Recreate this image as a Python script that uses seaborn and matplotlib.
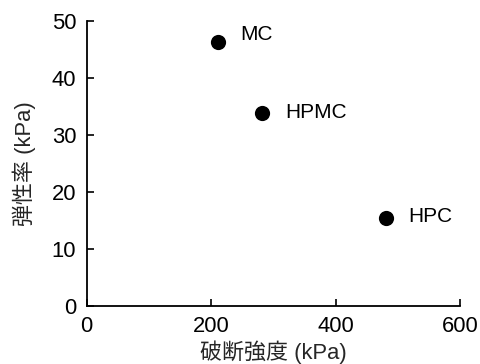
import matplotlib
matplotlib.use("Agg")
import matplotlib.pyplot as plt
import seaborn as sns
import pandas as pd

names = ["MC", "HPMC", "HPC"]
breaking_strength = [211, 282, 481]
elastic_modulus = [46.2, 33.9, 15.4]

x_ticks = [0, 200, 400, 600]
y_ticks = [0, 10, 20, 30, 40, 50]

sns.set_style("ticks")
plt.rcParams['font.family'] = ['Liberation Sans', 'Noto Sans CJK JP', 'DejaVu Sans']

df = pd.DataFrame({"x": breaking_strength, "y": elastic_modulus, "name": names})

FS = 15.8

fig = plt.figure(figsize=(4.8, 3.64), dpi=100)
ax = fig.add_axes([0.1806, 0.160, 0.9583 - 0.1806, 0.943 - 0.160])
sns.scatterplot(data=df, x="x", y="y", ax=ax, color="black", s=120, edgecolor="black", linewidth=0, zorder=3)

offsets = {"MC": (16, 6), "HPMC": (17, 0), "HPC": (16, 1)}
for n, xv, yv in zip(names, breaking_strength, elastic_modulus):
    dx, dy = offsets[n]
    ax.annotate(n, (xv, yv), xytext=(dx, dy), textcoords="offset points",
                ha="left", va="center", fontsize=FS - 0.8, color="black")

ax.set_xlim(0, 600)
ax.set_ylim(0, 50)
ax.set_xticks(x_ticks)
ax.set_yticks(y_ticks)
ax.tick_params(direction="in", length=5, width=1.2, labelsize=FS, colors="black", pad=7.5)
for s in ["top", "right"]:
    ax.spines[s].set_visible(False)
for s in ["left", "bottom"]:
    ax.spines[s].set_linewidth(1.3)
    ax.spines[s].set_color("black")
ax.set_xlabel("破断強度 (kPa)", fontsize=FS, labelpad=2)
ax.set_ylabel("弾性率 (kPa)", fontsize=FS, labelpad=11)

fig.savefig("out.png", dpi=100)
